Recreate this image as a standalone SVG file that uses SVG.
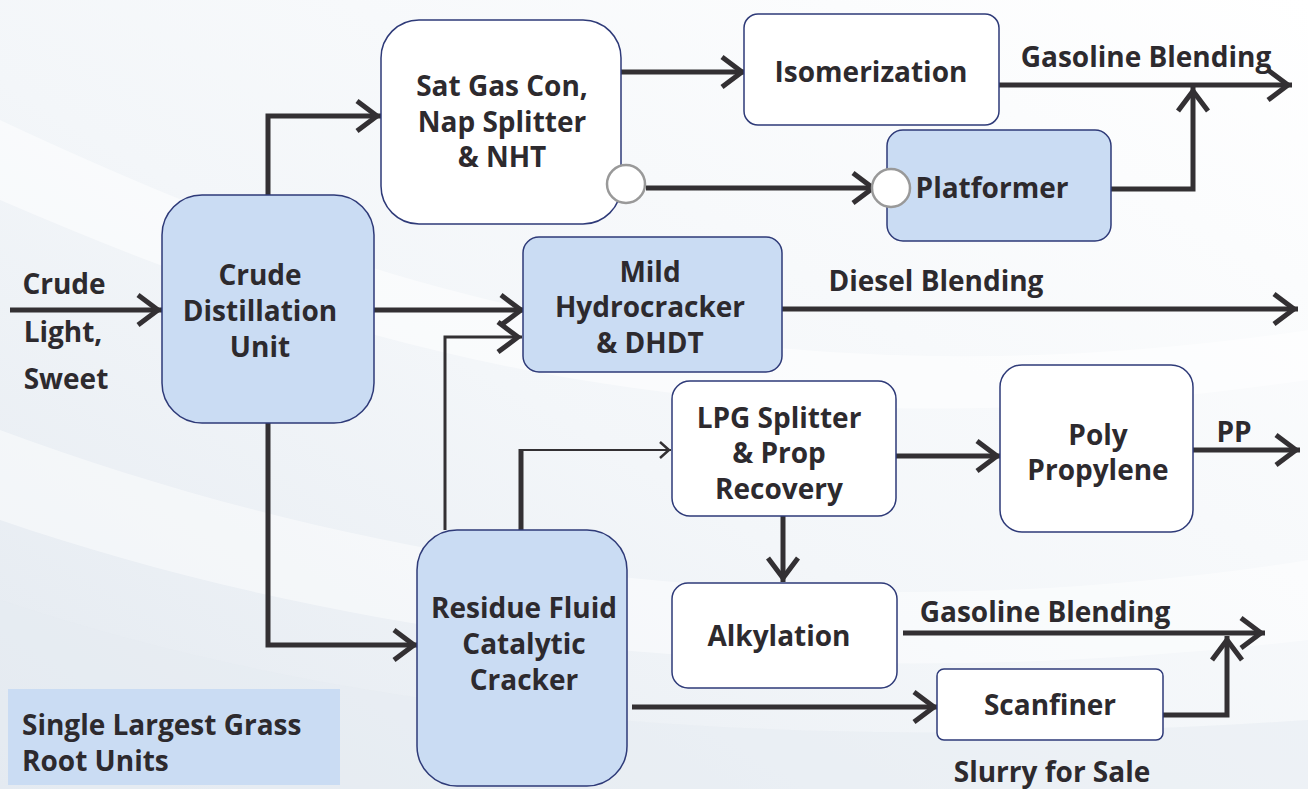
<svg xmlns="http://www.w3.org/2000/svg" width="1308" height="789" viewBox="0 0 1308 789">
<defs>
<linearGradient id="bg" x1="0" y1="1" x2="1" y2="0">
<stop offset="0" stop-color="#e3e9f0"/>
<stop offset="0.45" stop-color="#f3f6f9"/>
<stop offset="1" stop-color="#ffffff"/>
</linearGradient>
<marker id="arr" markerUnits="userSpaceOnUse" viewBox="-30 -18 34 36" markerWidth="34" markerHeight="36" refX="0" refY="0" orient="auto">
<path d="M-24,-15 L-4,0 L-24,15" fill="none" stroke="#333033" stroke-width="5"/>
</marker>
<marker id="arrS" markerUnits="userSpaceOnUse" viewBox="-14 -10 16 20" markerWidth="16" markerHeight="20" refX="0" refY="0" orient="auto">
<path d="M-11,-8 L-2,0 L-11,8" fill="none" stroke="#333033" stroke-width="2.5"/>
</marker>
</defs>
<style>
.box{stroke:#2e3a78;stroke-width:1.5}
.blue{fill:#cadcf3}
.white{fill:#ffffff}
.t{font-family:"Open Sans","Liberation Sans",sans-serif;font-weight:700;font-size:28px;fill:#2d2a2e;text-anchor:middle}
.ln{fill:none;stroke:#333033;stroke-width:5}
.thin{fill:none;stroke:#333033;stroke-width:3}
.hair{fill:none;stroke:#333033;stroke-width:2}
.circ{fill:#ffffff;stroke:#999999;stroke-width:2.5}
</style>
<rect x="0" y="0" width="1308" height="789" fill="url(#bg)"/>
<path d="M0,120 C300,260 700,420 1308,330 L1308,380 C700,470 300,330 0,200 Z" fill="#ffffff" opacity="0.5"/>
<path d="M0,430 C350,560 800,640 1308,560 L1308,640 C800,700 350,640 0,520 Z" fill="#ffffff" opacity="0.45"/>
<path d="M0,600 C300,700 700,760 1308,720 L1308,789 L0,789 Z" fill="#e6ecf2" opacity="0.5"/>

<g id="connectors">
<path class="ln" d="M10,310 H162" marker-end="url(#arr)"/>
<path class="ln" d="M268,195 V116 H381" marker-end="url(#arr)"/>
<path class="ln" d="M374,310 H525" marker-end="url(#arr)"/>
<path class="ln" d="M268,423 V645 H418" marker-end="url(#arr)"/>
<path class="ln" d="M621,72 H746" marker-end="url(#arr)"/>
<path class="ln" d="M646,188 H877" marker-end="url(#arr)"/>
<path class="ln" d="M999,85 H1292" marker-end="url(#arr)"/>
<path class="ln" d="M1111,189 H1193 V87" marker-end="url(#arr)"/>
<path class="ln" d="M782,309 H1298" marker-end="url(#arr)"/>
<path class="thin" d="M445,530 V337 H522" marker-end="url(#arr)"/>
<path class="ln" d="M521,530 V449"/>
<path class="hair" d="M519,450 H671" marker-end="url(#arrS)"/>
<path class="ln" d="M896,456 H1001" marker-end="url(#arr)"/>
<path class="ln" d="M783,516 V582" marker-end="url(#arr)"/>
<path class="ln" d="M1193,450 H1300" marker-end="url(#arr)"/>
<path class="ln" d="M903,633 H1265" marker-end="url(#arr)"/>
<path class="ln" d="M1163,715 H1227 V636" marker-end="url(#arr)"/>
<path class="ln" d="M632,707 H938" marker-end="url(#arr)"/>
</g>

<g id="cdu">
<rect class="box blue" x="162" y="195" width="212" height="228" rx="40"/>
<text class="t" x="260" y="285">Crude</text>
<text class="t" x="260" y="321">Distillation</text>
<text class="t" x="260" y="357">Unit</text>
</g>
<g id="satgas">
<rect class="box white" x="381" y="20" width="240" height="204" rx="38"/>
<text class="t" x="502" y="96">Sat Gas Con,</text>
<text class="t" x="502" y="132">Nap Splitter</text>
<text class="t" x="502" y="167">&amp; NHT</text>
<circle class="circ" cx="626" cy="184" r="19"/>
</g>
<g id="isom">
<rect class="box white" x="744" y="14" width="255" height="111" rx="14"/>
<text class="t" x="871" y="82">Isomerization</text>
</g>
<g id="platformer">
<rect class="box blue" x="887" y="130" width="224" height="111" rx="16"/>
<circle class="circ" cx="891" cy="188" r="19"/>
<text class="t" x="992" y="198">Platformer</text>
</g>
<g id="mhc">
<rect class="box blue" x="523" y="237" width="259" height="135" rx="16"/>
<text class="t" x="650" y="282">Mild</text>
<text class="t" x="650" y="317">Hydrocracker</text>
<text class="t" x="650" y="353">&amp; DHDT</text>
</g>
<g id="lpg">
<rect class="box white" x="672" y="381" width="224" height="135" rx="18"/>
<text class="t" x="779" y="428">LPG Splitter</text>
<text class="t" x="779" y="463">&amp; Prop</text>
<text class="t" x="779" y="499">Recovery</text>
</g>
<g id="poly">
<rect class="box white" x="1000" y="365" width="193" height="167" rx="22"/>
<text class="t" x="1098" y="445">Poly</text>
<text class="t" x="1098" y="480">Propylene</text>
</g>
<g id="alky">
<rect class="box white" x="672" y="583" width="225" height="105" rx="16"/>
<text class="t" x="779" y="646">Alkylation</text>
</g>
<g id="scanfiner">
<rect class="box white" x="937" y="669" width="226" height="71" rx="7"/>
<text class="t" x="1050" y="715">Scanfiner</text>
</g>
<g id="rfcc">
<rect class="box blue" x="417" y="530" width="210" height="256" rx="40"/>
<text class="t" x="524" y="618">Residue Fluid</text>
<text class="t" x="524" y="654">Catalytic</text>
<text class="t" x="524" y="690">Cracker</text>
</g>

<g id="labels">
<text class="t" x="64" y="294">Crude</text>
<text class="t" x="63" y="342">Light,</text>
<text class="t" x="66" y="389">Sweet</text>
<text class="t" x="1146" y="67">Gasoline Blending</text>
<text class="t" x="936" y="291">Diesel Blending</text>
<text class="t" x="1234" y="442">PP</text>
<text class="t" x="1045" y="622">Gasoline Blending</text>
<text class="t" x="1052" y="782">Slurry for Sale</text>
</g>

<g id="legend">
<rect x="8" y="689" width="332" height="96" fill="#cadcf3"/>
<text class="t" x="22" y="735" style="text-anchor:start">Single Largest Grass</text>
<text class="t" x="22" y="771" style="text-anchor:start">Root Units</text>
</g>
</svg>
